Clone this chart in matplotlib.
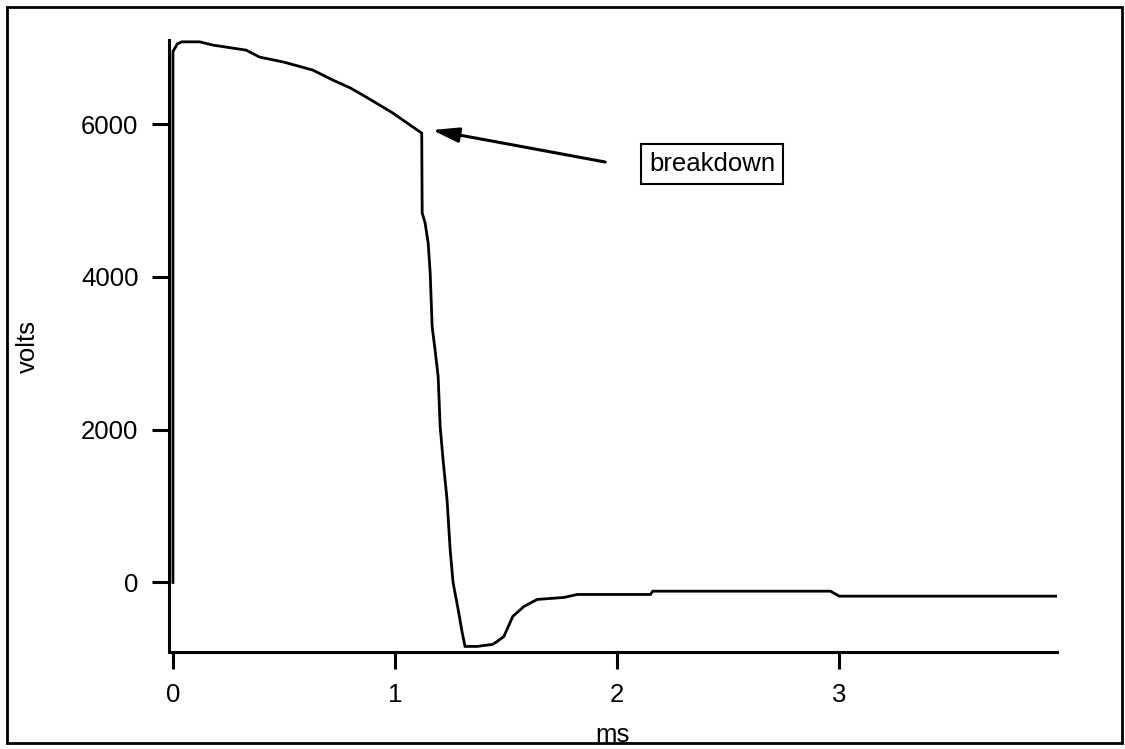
import matplotlib
matplotlib.use("Agg")
import matplotlib.pyplot as plt
from matplotlib.patches import Rectangle

plt.rcParams['font.family'] = ['Liberation Sans', 'DejaVu Sans']

# scope trace: time (ms) and voltage (volts)
t_ms = [0.0, 0.0, 0.02, 0.04, 0.12, 0.18, 0.33, 0.39, 0.50, 0.63, 0.72,
        0.80, 0.87, 0.99, 1.08, 1.12, 1.122, 1.135, 1.149, 1.158, 1.167,
        1.18, 1.194, 1.203, 1.216, 1.234, 1.248, 1.261, 1.284, 1.302,
        1.315, 1.369, 1.44, 1.46, 1.49, 1.53, 1.58, 1.64, 1.76, 1.82,
        2.15, 2.16, 2.96, 3.0, 3.98]
volts = [0, 6950, 7050, 7076, 7076, 7033, 6967, 6876, 6810, 6706, 6575,
         6470, 6353, 6144, 5961, 5882, 4837, 4706, 4444, 4052, 3346,
         3046, 2693, 2039, 1608, 1085, 431, 0, -353, -654,
         -837, -837, -810, -771, -706, -444, -314, -222, -196, -157,
         -157, -114, -114, -179, -179]

xticks = [0, 1, 2, 3]
yticks = [0, 2000, 4000, 6000]

# annotation: arrow tip, arrow tail, label centre (data coords)
arrow_tip = (1.167, 5922)
arrow_tail = (1.946, 5503)
label_pos = (2.428, 5477)

fig = plt.figure(figsize=(11.25, 7.49), dpi=100)
ax = fig.add_axes([0.1502, 0.1295, 0.7893, 0.8171])

ax.plot(t_ms, volts, color='black', lw=2.0, solid_joinstyle='miter')

ax.set_xlim(-0.018, 3.98)
ax.set_ylim(-910, 7100)
ax.set_xticks(xticks)
ax.set_yticks(yticks)
ax.set_xticklabels([str(v) for v in xticks])
ax.set_yticklabels([str(v) for v in yticks])

for side in ['top', 'right']:
    ax.spines[side].set_visible(False)
for side in ['left', 'bottom']:
    ax.spines[side].set_linewidth(2.2)
ax.tick_params(direction='out', length=12, width=2.2, labelsize=18.5, pad=10)

ax.set_xlabel('ms', fontsize=18.5)
ax.xaxis.set_label_coords(0.5, -0.147)
ax.xaxis.label.set_va('baseline')
ax.set_ylabel('volts', fontsize=18.5)
ax.yaxis.set_label_coords(-0.159, 0.5)
ax.yaxis.label.set_va('center')

ax.annotate('', xy=arrow_tip, xytext=arrow_tail,
            arrowprops=dict(arrowstyle='-|>,head_length=1.6,head_width=0.45',
                            color='black', lw=2.2, shrinkA=0, shrinkB=0,
                            mutation_scale=10))
ax.text(label_pos[0], label_pos[1], 'breakdown', fontsize=18.5,
        ha='center', va='center',
        bbox=dict(boxstyle='square,pad=0.3', fc='white', ec='black', lw=1.5))

# frame round the whole figure
fig.patches.append(Rectangle((0.0062, 0.008), 0.9911, 0.9827,
                             transform=fig.transFigure, fill=False,
                             ec='black', lw=2.0))

fig.savefig('out.png', dpi=100)
